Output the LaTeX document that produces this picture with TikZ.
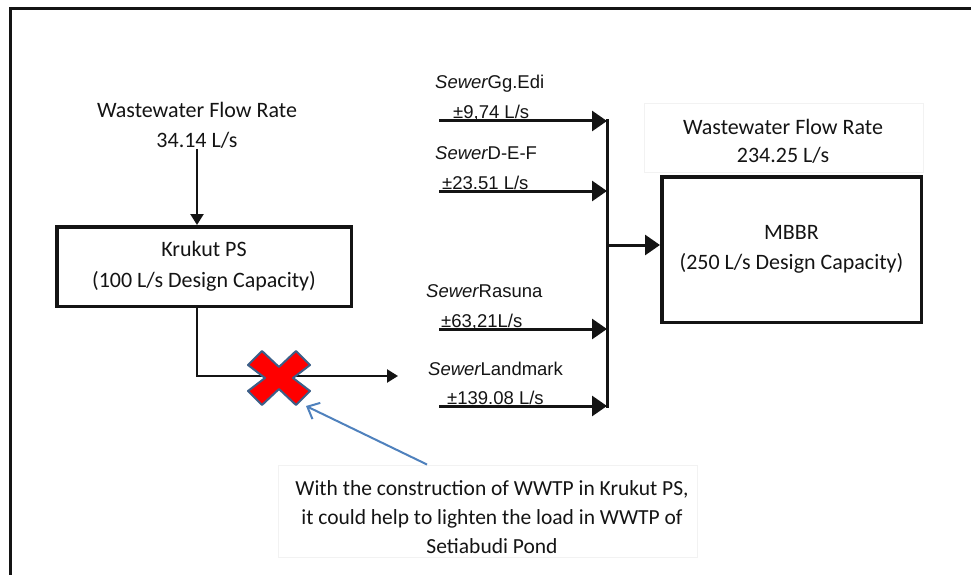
\documentclass[tikz,border=0pt]{standalone}
\usepackage{fontspec}
\setmainfont{Carlito}
\newfontfamily\arialf{Liberation Sans}
\usetikzlibrary{arrows.meta}
\definecolor{xred}{HTML}{FF0000}
\definecolor{xedge}{HTML}{3C5F88}
\definecolor{callout}{HTML}{4F81BD}
\definecolor{ink}{HTML}{141414}
\begin{document}
\begin{tikzpicture}[x=1pt,y=-1pt,
  txt/.style={inner sep=0pt, align=center, text=ink, font=\fontsize{22}{30}\selectfont},
  sewlab/.style={inner sep=0pt, anchor=base west, text=ink, font=\arialf\fontsize{18.5}{22}\selectfont},
  procbox/.style={draw=ink, line width=3.5pt, inner sep=0pt, align=center, text=ink, font=\fontsize{22}{31}\selectfont},
  faint/.style={draw=black!5, line width=1pt, inner sep=0pt},
  thinarrow/.style={draw=ink, line width=2.3pt, -{Triangle[length=11pt,width=13pt]}},
  bigarrow/.style={draw=ink, line width=3pt, -{Triangle[length=15pt,width=20pt]}},
  busline/.style={draw=ink, line width=3pt},
  framel/.style={draw=ink, line width=3pt},
  xmark/.style={fill=xred, draw=xedge, line width=2pt, line join=round},
  callarrow/.style={draw=callout, line width=2pt, -{Straight Barb[length=10pt,width=18pt]}}
]
\useasboundingbox (0,0) rectangle (971,575);
% outer frame (only top and left edges visible)
\draw[framel] (10.5,575) -- (10.5,8.5) -- (971,8.5);

% left part
\node[txt] (lefttop) at (197,125.5) {Wastewater Flow Rate\\34.14 L/s};
\node[procbox, minimum width=294.5pt, minimum height=79.5pt] (krukut) at (204,266.5)
  {Krukut PS\\(100 L/s Design Capacity)};
\draw[thinarrow] (lefttop.south) -- (lefttop.south |- krukut.north);

\coordinate (bend) at (197,376);
\coordinate (kend) at (398,376);
\draw[thinarrow] (krukut.south -| bend) -- (bend) -- (kend);

% red cross
\coordinate (xc) at (279,378);
\draw[xmark, shift={(xc)}] (-17,-27) -- (0,-11) -- (17,-27) -- (31,-13) -- (14,0) -- (31,13)
  -- (17,27) -- (0,11) -- (-17,27) -- (-31,13) -- (-14,0) -- (-31,-13) -- cycle;
\coordinate (xtip) at (306,406);

% sewer inputs
\coordinate (busTop) at (607,119.5);
\coordinate (busBot) at (607,407.5);
\draw[busline] (busTop) -- (busBot);

\node[sewlab] (lab1) at (435,89) {\itshape Sewer\upshape Gg.Edi};
\node[sewlab] (val1) at (453,119) {±9,74 L/s};
\coordinate (s1) at (439,121);
\draw[bigarrow] (s1) -- (s1 -| busTop);

\node[sewlab] (lab2) at (435,159) {\itshape Sewer\upshape D-E-F};
\node[sewlab] (val2) at (442,189) {±23.51 L/s};
\coordinate (s2) at (439,191);
\draw[bigarrow] (s2) -- (s2 -| busTop);

\node[sewlab] (lab3) at (426,297) {\itshape Sewer\upshape Rasuna};
\node[sewlab] (val3) at (441,327) {±63,21L/s};
\coordinate (s3) at (439,329);
\draw[bigarrow] (s3) -- (s3 -| busTop);

\node[sewlab] (lab4) at (428,375) {\itshape Sewer\upshape Landmark};
\node[sewlab] (val4) at (447,404) {±139.08 L/s};
\coordinate (s4) at (439,406);
\draw[bigarrow] (s4) -- (s4 -| busTop);

% MBBR
\node[faint, minimum width=279pt, minimum height=68pt] (rtframe) at (783.5,138) {};
\node[txt, font=\fontsize{22}{28}\selectfont] (righttop) at (783,141) {Wastewater Flow Rate\\234.25 L/s};
\node[procbox, minimum width=259.5pt, minimum height=145.5pt, font=\fontsize{22}{30}\selectfont] (mbbr) at (791.5,249.5)
  {MBBR\\(250 L/s Design Capacity)};
\coordinate (j) at (607,245);
\draw[bigarrow] (j) -- (j -| mbbr.west);

% note
\node[faint, minimum width=419pt, minimum height=92pt] (noteframe) at (487.5,511) {};
\node[txt, font=\fontsize{21.5}{29}\selectfont] (note) at (492,517)
  {With the construction of WWTP in Krukut PS,\\it could help to lighten the load in WWTP of\\Setiabudi Pond};
\draw[callarrow] (noteframe.north -| 427,0) -- (xtip);
\end{tikzpicture}
\end{document}
